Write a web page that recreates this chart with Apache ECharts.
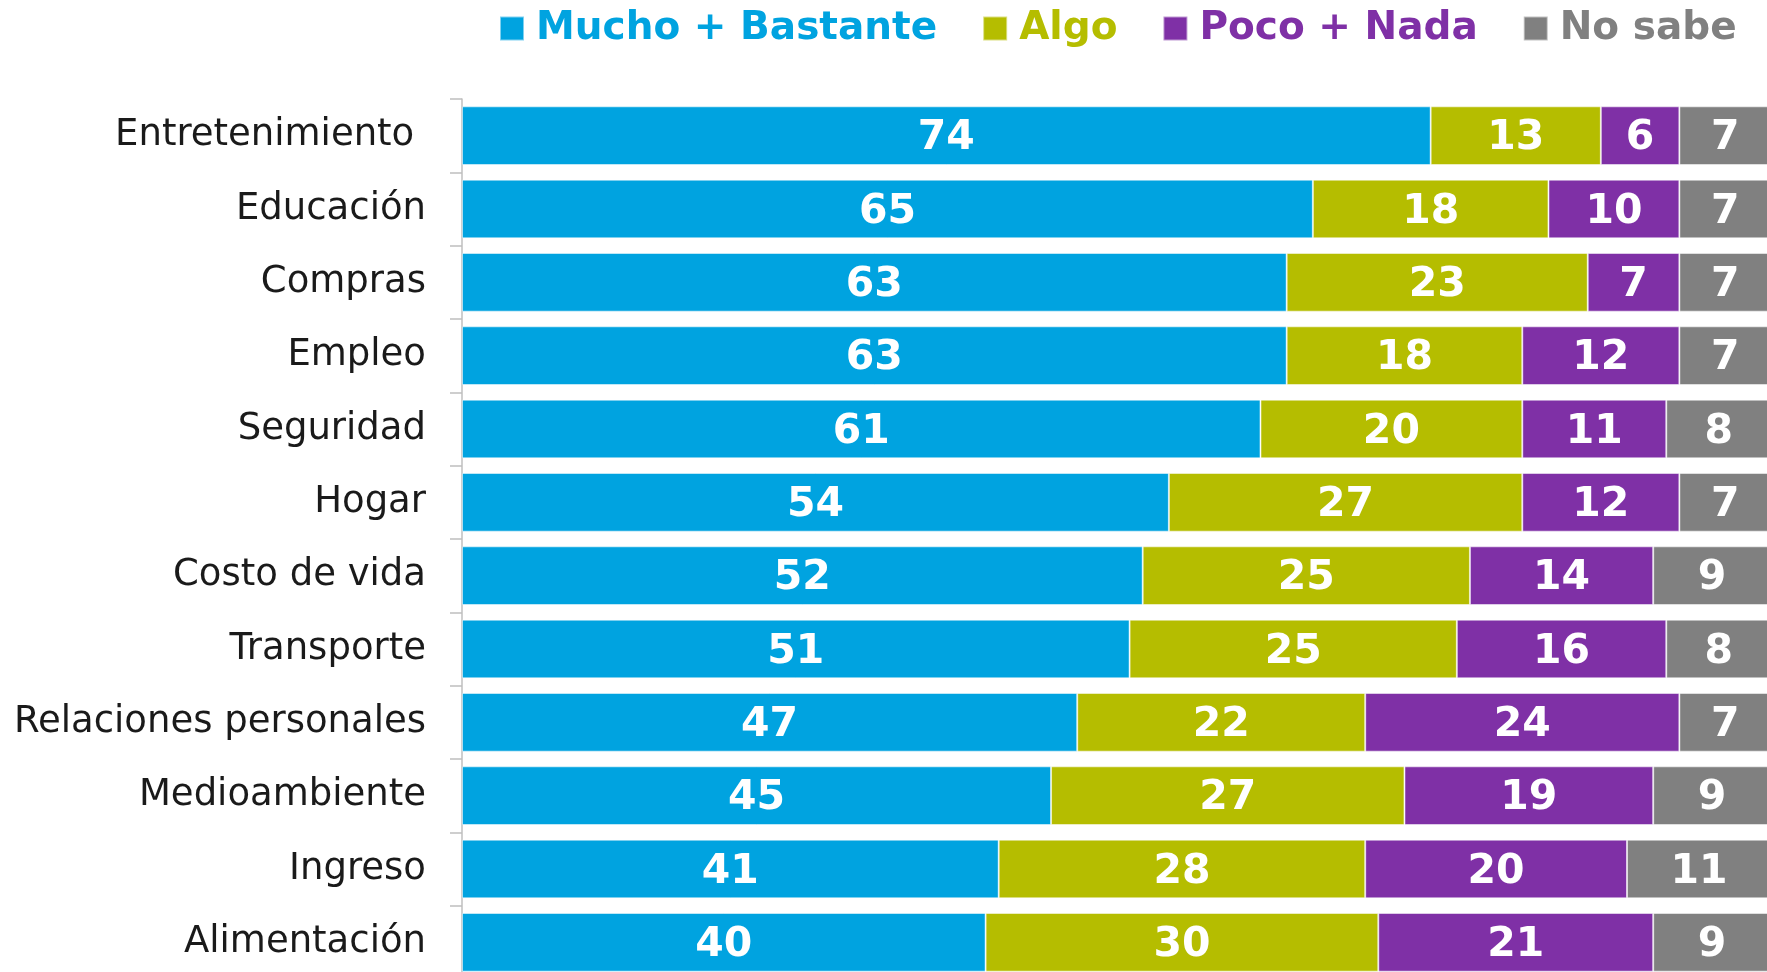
<!DOCTYPE html>
<html>
<head>
<meta charset="utf-8">
<script src="https://cdn.jsdelivr.net/npm/echarts@6/dist/echarts.min.js"></script>
<style>
  html, body { margin: 0; padding: 0; background: #fff; }
  #chart { width: 1767px; height: 972px; }
</style>
</head>
<body>
<div id="chart"></div>
<script>
const categories = ['Entretenimiento ', 'Educación', 'Compras', 'Empleo', 'Seguridad', 'Hogar',
  'Costo de vida', 'Transporte', 'Relaciones personales', 'Medioambiente', 'Ingreso', 'Alimentación']
const mucho = [74, 65, 63, 63, 61, 54, 52, 51, 47, 45, 41, 40]
const algo = [13, 18, 23, 18, 20, 27, 25, 25, 22, 27, 28, 30]
const poco = [6, 10, 7, 12, 11, 12, 14, 16, 24, 19, 20, 21]
const noSabe = [7, 7, 7, 7, 8, 7, 9, 8, 7, 9, 11, 9]

const seriesNames = ['Mucho + Bastante', 'Algo', 'Poco + Nada', 'No sabe']
const colors = ['#00A3E0', '#B5BD00', '#7F30A6', '#808080']
const font = 'DejaVu Sans'

const chart = echarts.init(document.getElementById('chart'))

const makeSeries = (name, data, i) => ({
  name,
  type: 'bar',
  stack: 'total',
  data,
  barCategoryGap: '20%',
  itemStyle: { color: colors[i], borderColor: 'rgba(255,255,255,0.5)', borderWidth: 1 },
  label: {
    show: true,
    position: 'inside',
    offset: [0, 3],
    color: '#fff',
    fontFamily: font,
    fontWeight: 'bold',
    fontSize: 41
  }
})

chart.setOption({
  animation: false,
  color: colors,
  legend: {
    left: 494,
    top: 4,
    itemWidth: 24,
    itemHeight: 24,
    itemGap: 45,
    icon: 'rect',
    textStyle: {
      fontFamily: font,
      fontWeight: 'bold',
      fontSize: 39,
      color: 'inherit',
      padding: [0, 0, 0, 7]
    },
    data: seriesNames
  },
  grid: {
    left: 462,
    top: 99,
    width: 1309,
    height: 880,
    containLabel: false,
    outerBoundsMode: 'none'
  },
  xAxis: {
    type: 'value',
    min: 0,
    max: 100,
    show: false
  },
  yAxis: {
    type: 'category',
    inverse: true,
    data: categories,
    axisLine: { show: true, lineStyle: { color: '#bfbfbf', width: 1.5 } },
    axisTick: { show: true, length: 12, lineStyle: { color: '#bfbfbf', width: 1.5 } },
    axisLabel: {
      margin: 36,
      color: '#1a1a1a',
      fontFamily: font,
      fontSize: 37,
      padding: [5, 0, 0, 0]
    }
  },
  series: [
    makeSeries(seriesNames[0], mucho, 0),
    makeSeries(seriesNames[1], algo, 1),
    makeSeries(seriesNames[2], poco, 2),
    makeSeries(seriesNames[3], noSabe, 3)
  ]
})
window.addEventListener('resize', () => { chart.resize() })
</script>
</body>
</html>
